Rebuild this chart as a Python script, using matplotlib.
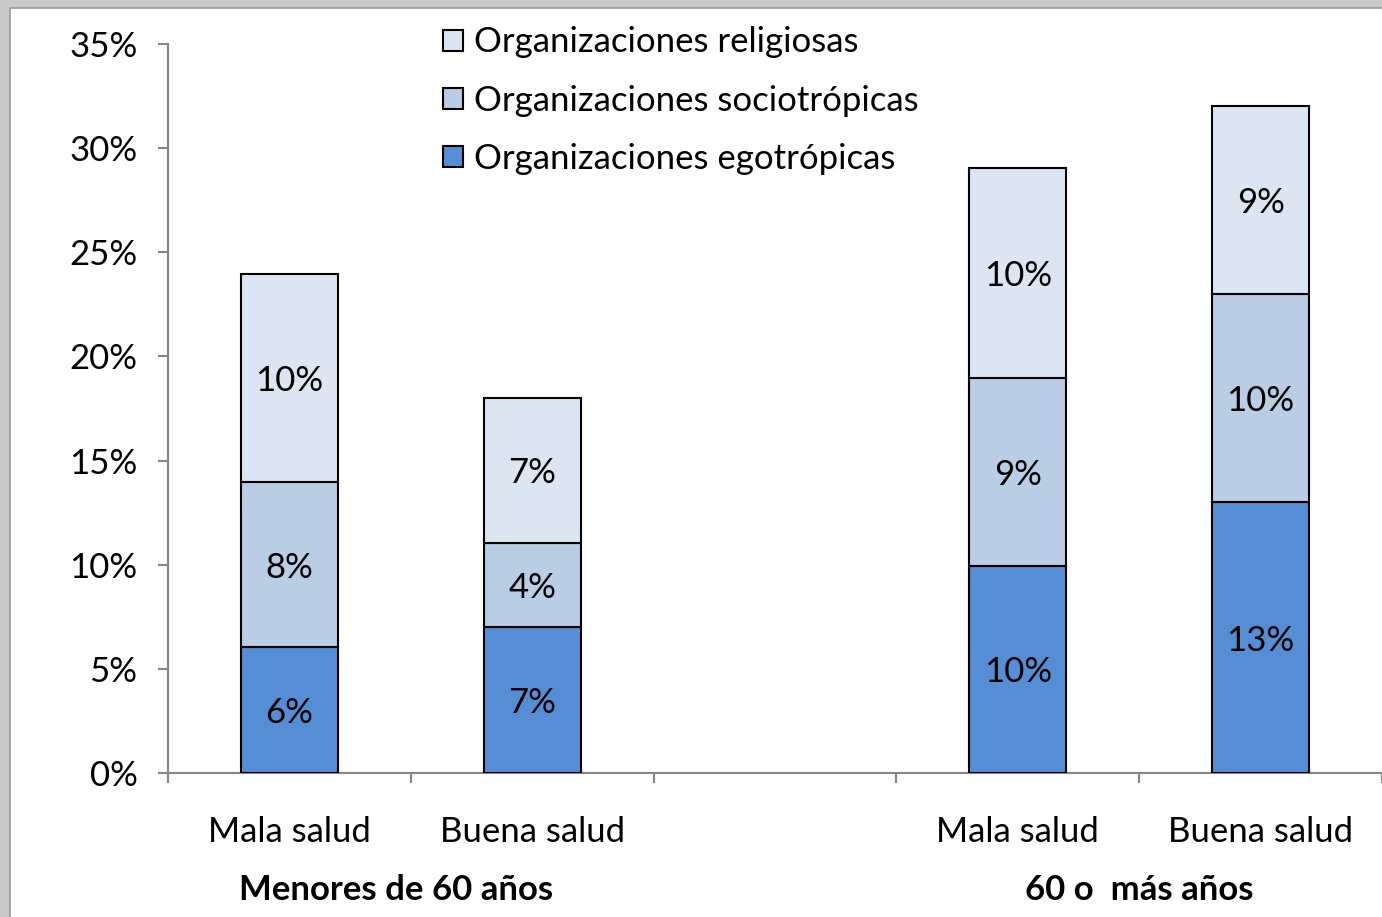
import matplotlib.pyplot as plt
from matplotlib.patches import Rectangle, Patch
from matplotlib.transforms import blended_transform_factory

plt.rcParams["font.family"] = ["Lato", "DejaVu Sans"]

categories = ["Mala salud", "Buena salud", "", "Mala salud", "Buena salud"]
groups = ["Menores de 60 años", "60 o  más años"]
series = ["Organizaciones egotrópicas", "Organizaciones sociotrópicas", "Organizaciones religiosas"]
egotropicas = [6.05, 7.0, None, 9.95, 13.0]
sociotropicas = [7.9, 4.05, None, 9.0, 10.0]
religiosas = [10.0, 6.95, None, 10.1, 9.0]
colors = ["#558ED5", "#B9CDE5", "#DCE6F2"]
yticks = [0, 5, 10, 15, 20, 25, 30, 35]

fig = plt.figure(figsize=(13.82, 9.17), dpi=100)
fig.patch.set_facecolor("#c9c9c9")
fig.patches.append(Rectangle((10 / 1382, -0.1), 1.2, (917 - 8) / 917 + 0.1,
                             transform=fig.transFigure, facecolor="white",
                             edgecolor="#9a9a9a", lw=1.2, zorder=-10))
ax = fig.add_axes([168 / 1382, (917 - 773) / 917, 1 - 168 / 1382, (773 - 44) / 917])
ax.set_facecolor("none")
ax.set_zorder(5)

fs = 25
grey = "#868686"
for i, cat in enumerate(categories):
    if egotropicas[i] is None:
        continue
    bottom = 0
    for vals, col in zip([egotropicas, sociotropicas, religiosas], colors):
        v = vals[i]
        ax.bar(i, v, 0.4, bottom=bottom, color=col, edgecolor="black", lw=1.5, zorder=3)
        ax.text(i, bottom + v / 2, f"{round(v)}%", ha="center", va="center_baseline",
                fontsize=fs)
        bottom += v

ax.set_xlim(-0.5, 4.5)
ax.set_ylim(0, 35)
ax.set_yticks(yticks, [f"{t}%" for t in yticks])
ax.set_xticks([-0.5, 0.5, 1.5, 2.5, 3.5, 4.5], [""] * 6)
pos = [i for i, c in enumerate(categories) if c]
ax.set_xticks(pos, [categories[i] for i in pos], minor=True)

for s in ["top", "right"]:
    ax.spines[s].set_visible(False)
for s in ["left", "bottom"]:
    ax.spines[s].set_color(grey)
    ax.spines[s].set_linewidth(1.5)
ax.tick_params(axis="y", length=7, width=1.5, color=grey, labelsize=fs, pad=15)
ax.tick_params(axis="x", which="major", length=7, width=1.5, color=grey)
ax.tick_params(axis="x", which="minor", length=0, labelsize=fs, pad=31)

tr = blended_transform_factory(ax.transData, ax.transAxes)
ax.text(0.44, -0.16, groups[0], transform=tr, ha="center", va="center",
        fontsize=fs, fontweight="bold")
ax.text(3.5, -0.16, groups[1], transform=tr, ha="center", va="center",
        fontsize=fs, fontweight="bold")

handles = [Patch(facecolor=c, edgecolor="black", lw=1.5) for c in colors]
ax.legend(handles[::-1], series[::-1], loc="upper left",
          bbox_to_anchor=(426 / 1382, 1 - 9 / 917), bbox_transform=fig.transFigure,
          frameon=False, fontsize=fs, handlelength=0.56, handleheight=0.56,
          handletextpad=0.32, labelspacing=0.76, borderpad=0)

fig.savefig("out.png", dpi=100, facecolor=fig.get_facecolor())
